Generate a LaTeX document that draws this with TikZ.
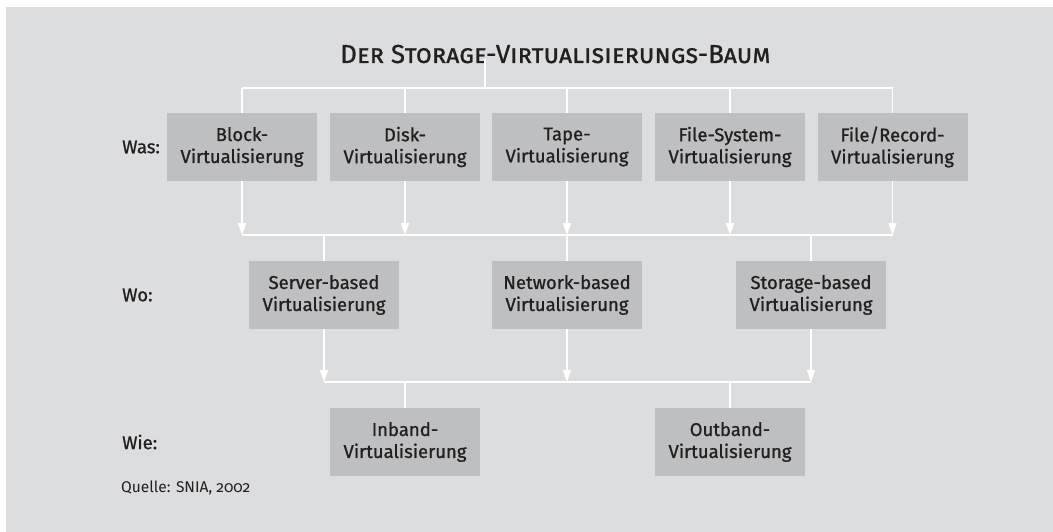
\documentclass[tikz,border=0pt]{standalone}
\usepackage{fontspec}
\setmainfont{Fira Sans}[Numbers=OldStyle]
\newfontfamily\medfont{Fira Sans}[FakeBold=0.9]
\usetikzlibrary{arrows.meta}
\definecolor{panelbg}{RGB}{220,221,223}
\definecolor{boxbg}{RGB}{190,191,193}
\definecolor{ink}{RGB}{35,31,32}
\tikzset{
  vbox/.style={fill=boxbg, minimum width=150bp, minimum height=68bp, inner sep=0pt,
    align=center, text=ink, font=\medfont\fontsize{18.5bp}{22bp}\selectfont},
  rowlabel/.style={anchor=west, inner sep=0pt, text=ink, font=\medfont\fontsize{18.5bp}{22bp}\selectfont},
  wline/.style={draw=white, line width=1.6bp},
  wbar/.style={draw=white, line width=2bp},
  warr/.style={draw=white, line width=1.6bp, -{Triangle[width=8bp,length=12bp,fill=white]}},
}
\begin{document}
\begin{tikzpicture}[x=1bp,y=-1bp]
\useasboundingbox (0,0) rectangle (1053,532);
\fill[white] (0,0) rectangle (1053,532);
\fill[panelbg] (6,7) rectangle (1053,532);

% title
\node[anchor=base west, inner sep=0pt, text=ink, font=\medfont\fontsize{26bp}{30bp}\selectfont\scshape] (title) at (340,63) {Der Storage-Virtualisierungs-Baum};
\coordinate (tstart) at (485,59);
\coordinate (tjoin) at (485,88);

% row labels
\node[rowlabel] (was) at (122,147) {Was:};
\node[rowlabel] (wo) at (122,295) {Wo:};
\node[rowlabel] (wie) at (122,442) {Wie:};
\node[anchor=west, inner sep=0pt, text=ink, font=\fontsize{15.5bp}{18bp}\selectfont] (quelle) at (121,488) {Quelle: SNIA, 2002};

% top row
\node[vbox] (block) at (242,147) {Block-\\Virtualisierung};
\node[vbox] (disk)  at (405,147) {Disk-\\Virtualisierung};
\node[vbox] (tape)  at (567,147) {Tape-\\Virtualisierung};
\node[vbox] (fsys)  at (730,147) {File-System-\\Virtualisierung};
\node[vbox] (frec)  at (892.5,147) {File/Record-\\Virtualisierung};

% middle row
\node[vbox] (server)  at (324,295) {Server-based\\Virtualisierung};
\node[vbox] (network) at (567,295) {Network-based\\Virtualisierung};
\node[vbox] (storage) at (811,295) {Storage-based\\Virtualisierung};

% bottom row
\node[vbox] (inband)  at (405,442) {Inband-\\Virtualisierung};
\node[vbox] (outband) at (730,442) {Outband-\\Virtualisierung};

% bar coordinates
\coordinate (tbL) at (242,88);
\coordinate (tbR) at (892.5,88);
\coordinate (mbL) at (242,235);
\coordinate (mbR) at (892.5,235);
\coordinate (lbL) at (324,382);
\coordinate (lbR) at (811,382);

% top bar and drops
\draw[wline] (tstart) -- (tjoin);
\draw[wbar] (tbL) -- (tbR);
\foreach \n in {block,disk,tape,fsys,frec}{
  \draw[wline] (\n.north |- tbL) -- (\n.north);
}

% arrows to middle bar
\foreach \n in {block,disk,tape,fsys,frec}{
  \draw[warr] (\n.south) -- (\n.south |- mbL);
}
\draw[wbar] (mbL) -- (mbR);
\foreach \n in {server,network,storage}{
  \draw[wline] (\n.north |- mbL) -- (\n.north);
}

% arrows to lower bar
\foreach \n in {server,network,storage}{
  \draw[warr] (\n.south) -- (\n.south |- lbL);
}
\draw[wbar] (lbL) -- (lbR);
\foreach \n in {inband,outband}{
  \draw[wline] (\n.north |- lbL) -- (\n.north);
}
\end{tikzpicture}
\end{document}
